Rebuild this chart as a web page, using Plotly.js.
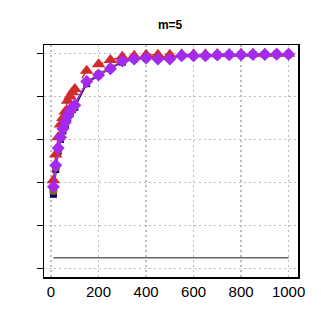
<!DOCTYPE html>
<html>
<head>
<meta charset="utf-8">
<script src="https://cdn.plot.ly/plotly-3.0.1.min.js"></script>
<style>
  body { margin: 0; background: #fff; }
  #chart { width: 321px; height: 334px; }
</style>
</head>
<body>
<div id="chart"></div>
<script>
// sample sizes on the x axis
const sizes = [10, 20, 30, 40, 50, 60, 70, 80, 90, 100,
  150, 200, 250, 300, 350, 400, 450, 500, 550, 600,
  650, 700, 750, 800, 850, 900, 950, 1000];

// power curves
const navyVals = [0.345, 0.46, 0.545, 0.60, 0.64, 0.67, 0.70, 0.72, 0.74, 0.75,
  0.86, 0.90, 0.93, 0.96, 0.975, 0.98, 0.98, 0.98, 0.99, 0.99,
  0.99, 0.993, 0.995, 0.995, 0.996, 0.996, 0.997, 0.997];
const oliveVals = [0.36, 0.47, 0.55, 0.605, 0.645, 0.675, 0.705, 0.725, 0.745, 0.76,
  0.865, 0.905, 0.935, 0.965, 0.975, 0.98, 0.98, 0.985, 0.99, 0.99,
  0.99, 0.993, 0.995, 0.995, 0.996, 0.996, 0.997, 0.997];
const redVals = [0.41, 0.53, 0.61, 0.67, 0.70, 0.73, 0.78, 0.80, 0.82, 0.835,
  0.92, 0.95, 0.97, 0.985, 0.99, 0.995, 0.995, 0.995, 0.997, 0.997,
  0.997, 0.998, 0.998, 0.999, 0.999, 0.999, 0.999, 0.999];
const purpleVals = [0.38, 0.48, 0.56, 0.61, 0.65, 0.68, 0.71, 0.73, 0.75, 0.76,
  0.87, 0.90, 0.93, 0.965, 0.975, 0.98, 0.975, 0.975, 0.99, 0.99,
  0.99, 0.993, 0.995, 0.995, 0.996, 0.996, 0.997, 0.997];

// nominal level line
const alphaLevel = 0.05;

const xTicks = [0, 200, 400, 600, 800, 1000];
const yTicks = [0, 0.2, 0.4, 0.6, 0.8, 1];

function series(y, color, symbol, size, dash) {
  return {
    x: sizes, y: y, type: 'scatter', mode: 'lines+markers',
    line: { color: color, width: 1.5, dash: dash },
    marker: { color: color, symbol: symbol, size: size },
    showlegend: false, hoverinfo: 'skip'
  };
}

const data = [
  {
    x: [sizes[0], sizes[sizes.length - 1]], y: [alphaLevel, alphaLevel],
    type: 'scatter', mode: 'lines',
    line: { color: '#666666', width: 1.5 }, showlegend: false, hoverinfo: 'skip'
  },
  series(navyVals, '#000080', 'square', 7, 'solid'),
  series(oliveVals, '#8B6508', 'circle', 8, 'solid'),
  series(redVals, '#D22B2B', 'triangle-up', 12, 'dash'),
  series(purpleVals, '#A52AF0', 'diamond', 10, 'solid')
];

const grid = { showgrid: true, gridcolor: '#bdbdbd', griddash: '1.5px,3.5px', gridwidth: 1.5 };

const layout = {
  width: 321, height: 334,
  margin: { l: 44, r: 23, t: 45, b: 57 },
  paper_bgcolor: '#fff', plot_bgcolor: '#fff',
  font: { family: 'Liberation Sans, Arial, sans-serif', color: '#000' },
  title: { text: '<b>m=5</b>', x: 0.53, xanchor: 'center', y: 0.925, yanchor: 'middle',
    font: { size: 12, color: '#000' } },
  xaxis: Object.assign({
    range: [-29.6, 1039.6], tickvals: xTicks, ticktext: xTicks.map(String),
    showline: true, linecolor: '#000', linewidth: 1.5, mirror: true,
    ticks: '', tickfont: { size: 15 },
    zeroline: false
  }, grid),
  yaxis: Object.assign({
    range: [-0.04, 1.04], tickvals: yTicks, showticklabels: false,
    showline: true, linecolor: '#000', linewidth: 1.5, mirror: true,
    ticks: 'outside', ticklen: 6, tickcolor: '#000', tickwidth: 1,
    zeroline: false
  }, grid)
};

Plotly.newPlot('chart', data, layout, { staticPlot: true });
</script>
</body>
</html>
